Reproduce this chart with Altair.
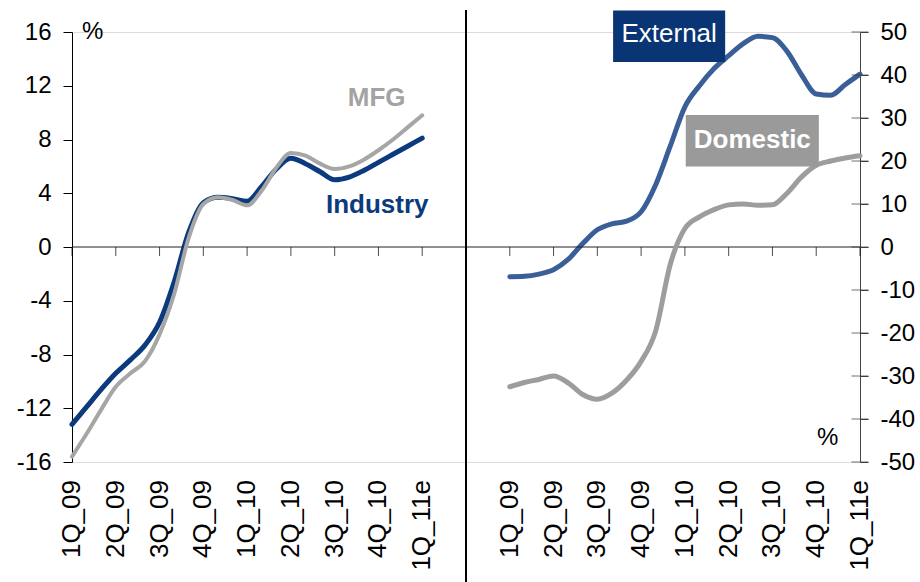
import altair as alt
import pandas as pd

# ---------------- data ----------------
quarters = ["1Q_09", "2Q_09", "3Q_09", "4Q_09", "1Q_10", "2Q_10", "3Q_10", "4Q_10", "1Q_11e"]

# monthly points (3 per quarter), left panel, %
industry = [-13.2, -11.9, -10.6, -9.4, -8.4, -7.3, -5.6, -2.6, 1.1, 3.3, 3.7, 3.6, 3.4,
            4.5, 5.8, 6.6, 6.2, 5.6, 5.0, 5.2, 5.7, 6.3, 6.9, 7.5, 8.1]
mfg = [-15.6, -13.9, -12.1, -10.4, -9.4, -8.5, -6.5, -3.5, 0.7, 3.2, 3.7, 3.5, 3.1,
       4.2, 5.9, 7.0, 6.8, 6.2, 5.8, 6.0, 6.5, 7.2, 8.0, 8.9, 9.8]
# right panel, %
external = [-6.9, -6.8, -6.3, -5.3, -2.9, 0.8, 4.0, 5.4, 6.0, 8.2, 14.5, 23.5, 32.6,
            37.5, 41.5, 44.5, 47.3, 49.0, 48.7, 45.5, 40.0, 35.6, 35.3, 37.8, 40.2]
domestic = [-32.5, -31.5, -30.8, -30.0, -31.6, -34.3, -35.4, -34.0, -31.0, -26.6, -19.5, -4.0, 4.3,
            7.0, 8.7, 9.8, 10.0, 9.7, 9.8, 12.5, 16.3, 19.0, 20.0, 20.7, 21.2]

left_ticks = [-16, -12, -8, -4, 0, 4, 8, 12, 16]
right_ticks = [-50, -40, -30, -20, -10, 0, 10, 20, 30, 40, 50]

# ---------------- layout helpers ----------------
FONT = "Liberation Sans"
RIGHT_SHIFT = 10           # right panel starts 10 quarter-slots to the right
n = len(industry)
xs_left = [i / 3 for i in range(n)]
xs_right = [RIGHT_SHIFT + i / 3 for i in range(n)]
tick_positions = list(range(0, len(quarters))) + [RIGHT_SHIFT + i for i in range(len(quarters))]
tick_labels = quarters + quarters

x_scale = alt.Scale(domain=[0, 18], nice=False, zero=False)
yl_scale = alt.Scale(domain=[-16, 16], nice=False, zero=False)
yr_scale = alt.Scale(domain=[-50, 50], nice=False, zero=False)

yl_axis = alt.Axis(values=left_ticks, orient="left", tickSize=9, tickColor="black",
                   domainColor="black", labelPadding=12, labelFontSize=24, labelFont=FONT,
                   labelColor="black", grid=False, title=None, format="d")
yr_axis = alt.Axis(values=right_ticks, orient="right", tickSize=8, tickColor="#444444",
                   domainColor="#444444", labelPadding=12, labelFontSize=24, labelFont=FONT,
                   labelColor="black", grid=False, title=None, format="d")


def line(xs, ys, color, width, yscale, yaxis=None):
    df = pd.DataFrame({"x": xs, "y": ys})
    return alt.Chart(df).mark_line(color=color, strokeWidth=width, interpolate="monotone",
                                   strokeCap="round", strokeJoin="round").encode(
        x=alt.X("x:Q", scale=x_scale, axis=None),
        y=alt.Y("y:Q", scale=yscale, axis=yaxis),
    )


def label(x, y, text, color, size, yscale, bold=False, align="left"):
    df = pd.DataFrame({"x": [x], "y": [y], "t": [text]})
    return alt.Chart(df).mark_text(color=color, fontSize=size, font=FONT,
                                   fontWeight="bold" if bold else "normal",
                                   align=align, baseline="alphabetic").encode(
        x=alt.X("x:Q", scale=x_scale, axis=None),
        y=alt.Y("y:Q", scale=yscale, axis=None),
        text="t:N",
    )


def box(x, x2, y, y2, color, yscale):
    df = pd.DataFrame({"x": [x], "x2": [x2], "y": [y], "y2": [y2]})
    return alt.Chart(df).mark_rect(color=color).encode(
        x=alt.X("x:Q", scale=x_scale, axis=None), x2="x2:Q",
        y=alt.Y("y:Q", scale=yscale, axis=None), y2="y2:Q",
    )


# zero line across both panels
zero_rule = alt.Chart(pd.DataFrame({"x": [0], "x2": [18], "y": [0]})).mark_rule(
    color="#222222", strokeWidth=1).encode(
    x=alt.X("x:Q", scale=x_scale, axis=None), x2="x2:Q",
    y=alt.Y("y:Q", scale=yl_scale, axis=None))

# category ticks hanging below the zero line
x_ticks = alt.Chart(pd.DataFrame({"x": tick_positions, "y": [0] * len(tick_positions)})).mark_tick(
    orient="vertical", size=9, thickness=1, color="black", yOffset=4.5).encode(
    x=alt.X("x:Q", scale=x_scale, axis=None),
    y=alt.Y("y:Q", scale=yl_scale, axis=None))

# rotated category labels below the plot
x_labels = alt.Chart(pd.DataFrame({"x": tick_positions, "t": tick_labels})).mark_text(
    angle=270, align="right", baseline="middle", fontSize=26, font=FONT, color="black").encode(
    x=alt.X("x:Q", scale=x_scale, axis=None),
    y=alt.value(448),
    text="t:N")

# vertical divider between the two panels
divider = alt.Chart(pd.DataFrame({"x": [RIGHT_SHIFT - 1]})).mark_rule(
    color="black", strokeWidth=2).encode(
    x=alt.X("x:Q", scale=x_scale, axis=None),
    y=alt.value(-22), y2=alt.value(550))

# crossing ticks on the right axis
r_ticks = alt.Chart(pd.DataFrame({"x": [18] * len(right_ticks), "y": right_ticks})).mark_tick(
    orient="horizontal", size=17, thickness=1, color="#333333").encode(
    x=alt.X("x:Q", scale=x_scale, axis=None),
    y=alt.Y("y:Q", scale=yr_scale, axis=None))

chart = alt.layer(
    line(xs_left, industry, "#0c3a7e", 5, yl_scale, yaxis=yl_axis),
    line(xs_right, external, "#3a5f98", 5, yr_scale, yaxis=yr_axis),
    zero_rule,
    x_ticks,
    x_labels,
    divider,
    line(xs_left, mfg, "#a6a6a6", 4, yl_scale),
    label(0.23, 15.5, "%", "black", 24, yl_scale),
    label(6.30, 10.47, "MFG", "#a3a3a3", 26, yl_scale, bold=True),
    label(5.80, 2.56, "Industry", "#0c3a7e", 26, yl_scale, bold=True),
    line(xs_right, domestic, "#9d9d9d", 5, yr_scale),
    r_ticks,
    box(12.36, 14.92, 55.0, 43.0, "#0a3575", yr_scale),
    box(14.02, 17.06, 30.7, 18.7, "#9a9a9a", yr_scale),
    label(13.64, 47.6, "External", "white", 26, yr_scale, align="center"),
    label(15.54, 23.1, "Domestic", "white", 26, yr_scale, bold=True, align="center"),
    label(17.02, -46.1, "%", "black", 24, yr_scale),
).resolve_scale(y="independent").properties(
    width=788, height=430,
    padding={"left": 72, "top": 32, "right": 60, "bottom": 120},
    autosize=alt.AutoSizeParams(type="none"),
    background="white",
).configure_view(stroke=None).configure(
    locale={"number": {"decimal": ".", "thousands": ",", "grouping": [3],
                       "currency": ["$", ""], "minus": "-"}}
)

chart.save("out.html", embed_options={"renderer": "svg", "actions": False})
